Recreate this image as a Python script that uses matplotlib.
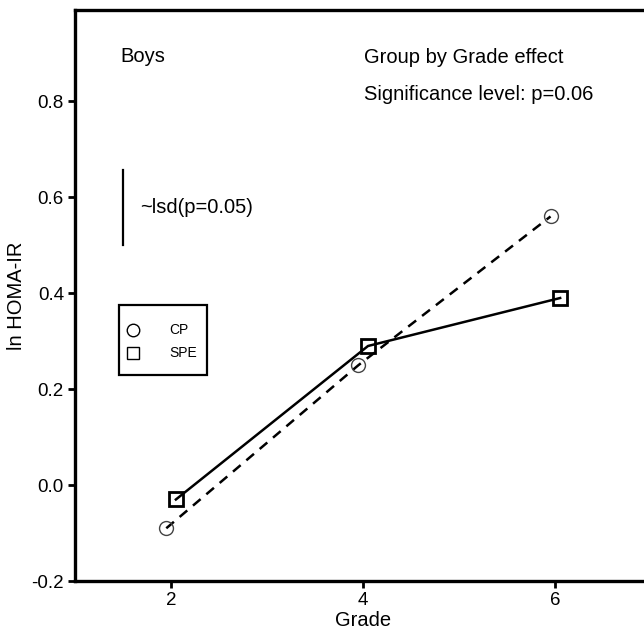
import numpy as np
import matplotlib.pyplot as plt
from matplotlib.patches import Rectangle

plt.rcParams['font.family'] = ['Liberation Sans', 'DejaVu Sans']

# data
grades = np.array([2, 4, 6])
cp = np.array([-0.09, 0.25, 0.56])
spe = np.array([-0.03, 0.29, 0.39])
offset = 0.05
groups = ['CP', 'SPE']

fig = plt.figure(figsize=(6.44, 6.38), dpi=100)
ax = fig.add_axes([0.1165, 0.0893, 0.895, 0.8947])

ax.plot(grades - offset, cp, color='black', lw=1.8, ls=(0, (4, 3)),
        marker='o', ms=10, mfc='none', mec='#444444', mew=1.0, zorder=3)
ax.plot(grades + offset, spe, color='black', lw=1.8, ls='-',
        marker='s', ms=9.5, mfc='none', mec='black', mew=2.0, zorder=4)

# lsd bar
ax.plot([1.5, 1.5], [0.50, 0.656], color='black', lw=1.6)
ax.text(1.68, 0.578, '~lsd(p=0.05)', fontsize=14.5, va='center')

ax.text(1.47, 0.882, 'Boys', fontsize=14.5, va='baseline')
ax.text(4.01, 0.880, 'Group by Grade effect', fontsize=14.5, va='baseline')
ax.text(4.01, 0.802, 'Significance level: p=0.06', fontsize=14.5, va='baseline')

# legend box drawn by hand (axes fraction)
ax.add_patch(Rectangle((0.0764, 0.3608), 0.1528, 0.1226, transform=ax.transAxes,
                       fill=False, ec='black', lw=1.6, zorder=5))
for mk, yy, lab in zip(['o', 's'], [0.4396, 0.3993], groups):
    ax.plot([0.1007], [yy], transform=ax.transAxes, ls='none', marker=mk, ms=9,
            mfc='none', mec='black', mew=1.0, clip_on=False)
    ax.text(0.163, yy, lab, transform=ax.transAxes, fontsize=10, va='center')

ax.set_xlim(1.0, 7.0)
ax.set_ylim(-0.2, 0.99)
ax.set_xticks(grades)
ax.set_yticks([-0.2, 0.0, 0.2, 0.4, 0.6, 0.8])
ax.set_yticklabels(['-0.2', '0.0', '0.2', '0.4', '0.6', '0.8'])
ax.tick_params(direction='out', length=5, width=2, labelsize=13.5, pad=3)
ax.set_xlabel('Grade', fontsize=14.5, labelpad=1)
ax.set_ylabel('ln HOMA-IR', fontsize=14.5, labelpad=4)

for side in ['left', 'bottom', 'top']:
    ax.spines[side].set_linewidth(2.4)
ax.spines['right'].set_visible(False)

fig.savefig('out.png', dpi=100)
